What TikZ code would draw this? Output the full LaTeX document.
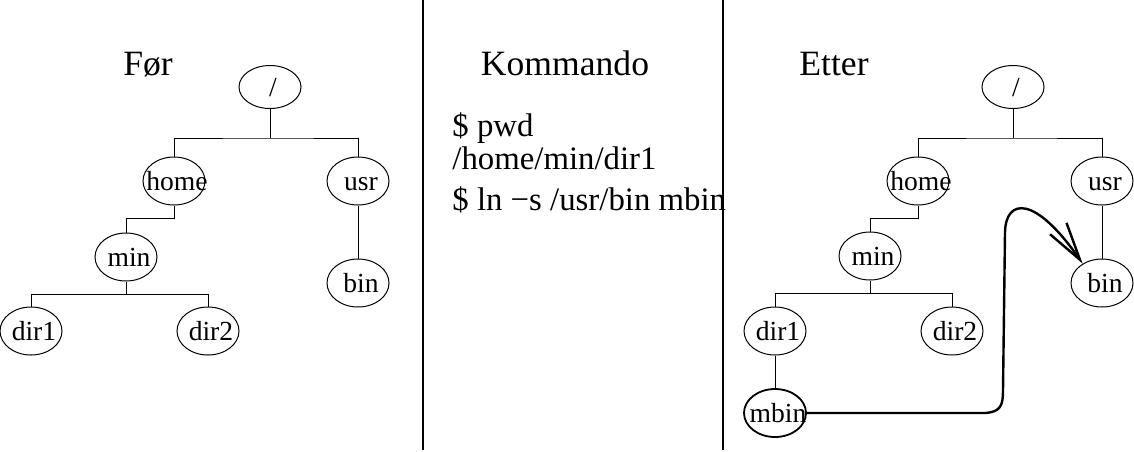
\documentclass[tikz,border=0pt]{standalone}
\usepackage{fontspec}
\setmainfont{Liberation Serif}
\usetikzlibrary{shapes.geometric,arrows.meta}
\newcommand{\dirname}[1]{\makebox[0pt]{\kern3pt#1}}

\begin{document}
\begin{tikzpicture}[x=0.5pt, y=-0.5pt,
	dirnode/.style={draw, ellipse, line width=0.5pt, inner sep=0pt, minimum width=31pt, minimum height=24pt, text height=9.5pt, text depth=0pt, font=\fontsize{13.8}{16}\selectfont},
	rootnode/.style={dirnode, minimum height=21.5pt},
	treeline/.style={line width=0.5pt},
	divider/.style={line width=0.8pt},
	heading/.style={anchor=base, inner sep=0pt, font=\fontsize{17.8}{21}\selectfont},
	cmdline/.style={anchor=base west, inner sep=0pt, font=\fontsize{16.4}{19}\selectfont},
	symlink/.style={line width=1.2pt, -{Straight Barb[length=19pt,width=10pt,line width=1.2pt]}}]
	\useasboundingbox (0,0) rectangle (1134,451);
	\draw[divider] (423,0) -- (423,450);
	\draw[divider] (723,0) -- (723,450);
	% headings and commands
	\node[heading] (before) at (148,75) {Før};
	\node[heading] (command) at (565,75) {Kommando};
	\node[heading] (after) at (834,75) {Etter};
	\node[cmdline] (cmdpwd) at (452,136) {\$ pwd};
	\node[cmdline] (cmdpath) at (452,169) {/home/min/dir1};
	\node[cmdline] (cmdln) at (452,210) {\$ ln −s /usr/bin mbin};
	% tree before
	\node[rootnode] (lroot) at (270,87) {\dirname{/}};
	\node[dirnode] (lhome) at (174,181) {\dirname{home}};
	\node[dirnode] (lusr) at (358,181) {\dirname{usr}};
	\node[dirnode] (lmin) at (126,257) {\dirname{min}};
	\node[dirnode] (lbin) at (358,283) {\dirname{bin}};
	\node[dirnode] (ldirone) at (31,331) {\dirname{dir1}};
	\node[dirnode] (ldirtwo) at (208,331) {\dirname{dir2}};
	\draw[treeline] (lroot.south) -- ++(0,29) coordinate (lrootbar);
	\draw[treeline] (lhome.north) |- (lrootbar) -| (lusr.north);
	\draw[treeline] (lhome.south) -- ++(0,13) -| (lmin.north);
	\draw[treeline] (lmin.south) -- ++(0,13) coordinate (lminbar);
	\draw[treeline] (ldirone.north) |- (lminbar) -| (ldirtwo.north);
	\draw[treeline] (lusr) -- (lbin);
	% tree after
	\node[rootnode] (rroot) at (1013,87) {\dirname{/}};
	\node[dirnode] (rhome) at (918,181) {\dirname{home}};
	\node[dirnode] (rusr) at (1102,181) {\dirname{usr}};
	\node[dirnode] (rmin) at (870,256) {\dirname{min}};
	\node[dirnode] (rbin) at (1102,283) {\dirname{bin}};
	\node[dirnode] (rdirone) at (775,331) {\dirname{dir1}};
	\node[dirnode] (rdirtwo) at (952,331) {\dirname{dir2}};
	\node[dirnode, line width=0.9pt] (rmbin) at (775,413) {\dirname{mbin}};
	\draw[treeline] (rroot.south) -- ++(0,29) coordinate (rrootbar);
	\draw[treeline] (rhome.north) |- (rrootbar) -| (rusr.north);
	\draw[treeline] (rhome.south) -- ++(0,13) -| (rmin.north);
	\draw[treeline] (rmin.south) -- ++(0,13) coordinate (rminbar);
	\draw[treeline] (rdirone.north) |- (rminbar) -| (rdirtwo.north);
	\draw[treeline] (rusr) -- (rbin);
	\draw[treeline] (rdirone) -- (rmbin);
	\draw[symlink] (rmbin.east) -- (985,413) .. controls (1001,412) and (1003,405) .. (1003,390) -- (1005,232) .. controls (1006,198) and (1035,195) .. (rbin.135);
\end{tikzpicture}
\end{document}
